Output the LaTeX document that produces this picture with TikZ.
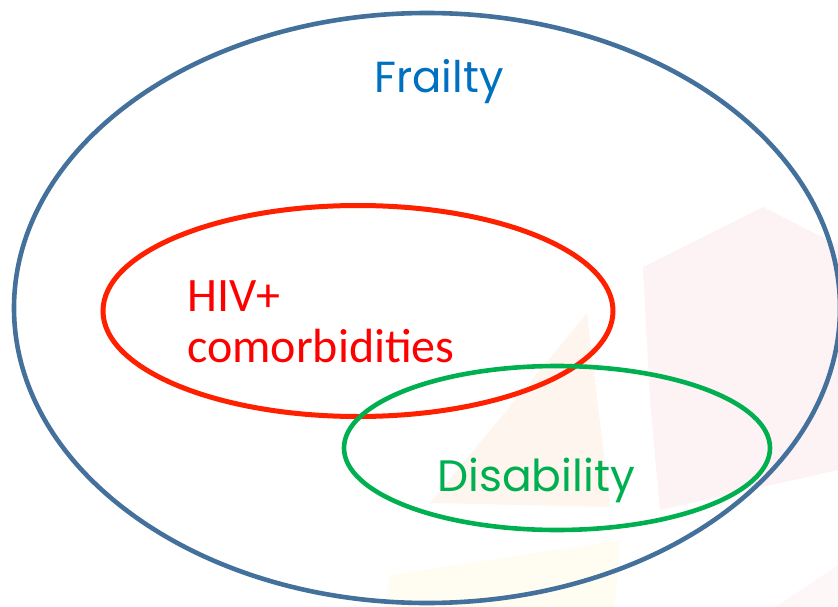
\documentclass[tikz,border=0pt]{standalone}
\usepackage{fontspec}
\setmainfont{Carlito}
\newfontfamily\gothic{Poppins}
\usetikzlibrary{shapes.geometric}
\definecolor{frailblue}{HTML}{44709C}
\definecolor{frailtext}{HTML}{0070C0}
\definecolor{hivred}{HTML}{FF2000}
\definecolor{hivtext}{HTML}{FF0000}
\definecolor{disgreen}{HTML}{00B050}
\definecolor{wmpink}{HTML}{FDF2F4}
\definecolor{wmpeach}{HTML}{FEF6EE}
\definecolor{wmyellow}{HTML}{FFFDF1}
\tikzset{
  setring/.style={ellipse, draw, inner sep=0pt, line width=#1},
}
\begin{document}
\begin{tikzpicture}[x=1pt,y=-1pt]
\useasboundingbox (0,0) rectangle (838,607);
% faint watermark shapes
\fill[wmpink] (643,267) -- (763,207) -- (838,245) -- (838,470) -- (660,510) -- (650,400) -- cycle;
\fill[wmpeach] (587,313) -- (430,503) -- (610,507) -- cycle;
\fill[wmyellow] (390,575) -- (620,540) -- (615,607) -- (385,607) -- cycle;
\fill[wmpink!60] (775,607) -- (838,565) -- (838,607) -- cycle;
% sets
\node[setring=4.6pt, draw=frailblue, minimum width=826pt, minimum height=590pt] (frailty) at (427,308) {};
\node[setring=5pt, draw=hivred, minimum width=510pt, minimum height=211pt] (hiv) at (358,311) {};
\node[setring=4.6pt, draw=disgreen, minimum width=426pt, minimum height=164pt] (dis) at (557,448) {};
% labels
\node[anchor=base, text=frailtext, font=\gothic\fontsize{43.5}{50}\selectfont, inner sep=0pt] (tfrail) at (439,93) {Frailty};
\node[anchor=base west, text=hivtext, font=\fontsize{48}{54}\selectfont, inner sep=0pt] (thiv) at (187,311) {HIV+};
\node[anchor=base west, text=hivtext, font=\fontsize{48}{54}\selectfont, inner sep=0pt] (tcom) at (187,362) {comorbidities};
\node[anchor=base west, text=disgreen, font=\gothic\fontsize{44}{52}\selectfont, inner sep=0pt] (tdis) at (437,491) {Disability};
\end{tikzpicture}
\end{document}
